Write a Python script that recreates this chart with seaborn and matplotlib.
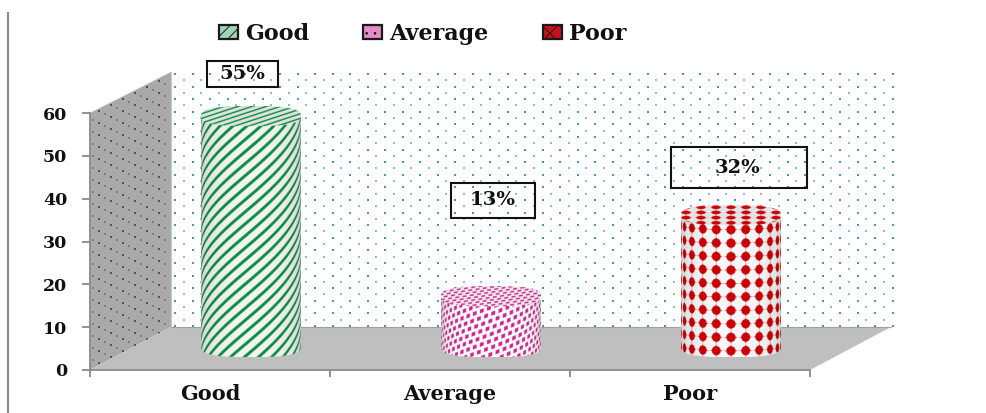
import numpy as np
import matplotlib
matplotlib.use("Agg")
import matplotlib.pyplot as plt
from matplotlib.patches import Polygon, Rectangle, Patch
import seaborn as sns

# Survey results
categories = ["Good", "Average", "Poor"]
values = [55, 13, 32]
y_ticks = [0, 10, 20, 30, 40, 50, 60]
bar_colors = ["#0e8c4a", "#d0258f", "#cc0008"]
legend_faces = ["#9fd4b6", "#e48cc6", "#c8101c"]
legend_hatches = ["///", "..", "xx"]
box_rects = [(207, 61, 71, 26), (451, 183, 84, 35), (671, 147, 136, 41)]
label_centres = [(242, 74), (493, 200), (738, 168)]

sns.set_style("white")
SERIF = ["DejaVu Serif"]
TEXT = "#111111"
W, H = 987, 413
fig = plt.figure(figsize=(W / 100, H / 100), dpi=100, facecolor="white")


def rect(left, top, right, bottom):
    return [left / W, 1 - bottom / H, (right - left) / W, (bottom - top) / H]


# Pixel-addressed layer holding the box walls, floor, frame rule and labels
canvas = fig.add_axes([0, 0, 1, 1], zorder=0)
canvas.set_xlim(0, W)
canvas.set_ylim(H, 0)
canvas.axis("off")

back = Polygon([(171, 72), (891, 72), (891, 327), (171, 327)], fc="white", ec="none")
side = Polygon([(90, 113), (171, 72), (171, 327), (90, 370)], fc="#a9a9a9", ec="none")
floor = Polygon([(90, 370), (810, 370), (891, 327), (171, 327)], fc="#bfbfbf", ec="none")
for wall in (back, side, floor):
    canvas.add_patch(wall)
canvas.plot([171, 171], [72, 327], color="#c8c8c8", lw=0.8)
canvas.plot([171, 891], [327, 327], color="#a0a0a0", lw=0.8)

# Dotted wall fills
rows = np.arange(74, 327, 6.3)
for k, ry in enumerate(rows):
    xs = np.arange(175 + (k % 2) * 8.75, 893, 17.5)
    strong = k % 2 == 0
    canvas.scatter(xs, np.full_like(xs, ry), s=3.0 if strong else 1.5,
                   marker="s", linewidths=0,
                   color="#4a9f84" if strong else "#93c2b3", zorder=1)
for k, base_y in enumerate(np.arange(110, 380, 6.0)):
    xs = np.arange(93 + (k % 2) * 6.0, 171, 12.0)
    ys = base_y - 0.506 * (xs - 90)
    dots = canvas.scatter(xs, ys, s=1.4 if k % 2 else 0.9, marker="s", linewidths=0,
                          color="#555555" if k % 2 else "#808080", zorder=1)
    dots.set_clip_path(side)

canvas.plot([8, 8], [12, 413], color="#8a8a8a", lw=1.5, solid_capstyle="butt")

# Value labels in outlined boxes
for (bx, by, bw, bh), (cx, cy), v in zip(box_rects, label_centres, values):
    canvas.add_patch(Rectangle((bx, by), bw, bh, fill=False, ec=TEXT, lw=1.5, zorder=3))
    canvas.text(cx, cy, f"{v}%", ha="center", va="center", family=SERIF,
                fontweight="bold", fontsize=14, color=TEXT, zorder=4)

# Legend
plt.rcParams["hatch.linewidth"] = 0.7
handles = [Patch(facecolor=f, edgecolor="#1a1a1a", hatch=h, lw=1.6, label=c)
           for f, h, c in zip(legend_faces, legend_hatches, categories)]
canvas.legend(handles=handles, loc="upper left", bbox_to_anchor=(219 / W, 1 - 23 / H),
              bbox_transform=fig.transFigure, ncol=3, frameon=False, borderpad=0,
              borderaxespad=0, handlelength=0.86, handleheight=0.58, handletextpad=0.3,
              columnspacing=2.45, labelcolor=TEXT,
              prop={"family": SERIF, "weight": "bold", "size": 16})

# Front-plane value axis
ax = fig.add_axes(rect(90, 113, 810, 370), zorder=1)
ax.patch.set_alpha(0)
ax.set_xlim(-0.5, 2.5)
ax.set_ylim(0, 60)
for s in ("top", "right"):
    ax.spines[s].set_visible(False)
for s in ("left", "bottom"):
    ax.spines[s].set_color("#8a8a8a")
    ax.spines[s].set_linewidth(1.3)
ax.set_yticks(y_ticks)
ax.set_xticks(range(len(categories)), categories)
ax.set_xticks([-0.5, 0.5, 1.5, 2.5], minor=True)
ax.tick_params(axis="y", length=5.8, width=1.3, color="#8a8a8a", pad=10.5,
               left=True, labelsize=12.5, labelcolor=TEXT)
ax.tick_params(axis="x", which="major", length=0, pad=10, labelsize=15, labelcolor=TEXT)
ax.tick_params(axis="x", which="minor", length=5, width=1.3, color="#8a8a8a", bottom=True)
for lab in ax.get_xticklabels() + ax.get_yticklabels():
    lab.set_family(SERIF)
    lab.set_fontweight("bold")

# Mid-depth plane that carries the cylinders
PX_PER_UNIT = 257 / 60
DEPTH_X, DEPTH_Y = 41, 17.4
FLOOR_VALUE = 1.3
bar_ax = fig.add_axes(rect(90 + DEPTH_X, 113 - DEPTH_Y, 810 + DEPTH_X, 370 - DEPTH_Y - FLOOR_VALUE * PX_PER_UNIT),
                      zorder=2)
bar_ax.patch.set_alpha(0)
sns.barplot(x=categories, y=values, hue=categories, palette=bar_colors, width=100 / 240,
            legend=False, saturation=1, ax=bar_ax)


def ink_good(s, v):
    phase = (v + 0.85 * s) / 12.0
    return np.clip((np.cos(2 * np.pi * phase) - 0.35) * 3.0, 0, 1)


def ink_average(s, v):
    # Sheared lattice of small squares
    sv = v + 0.38 * s
    row = np.floor(sv / 6.6)
    du = np.mod(s + row * 2.9, 7.2) - 3.6
    dv = np.mod(sv, 6.6) - 3.3
    return np.clip((2.2 - np.maximum(np.abs(du), np.abs(dv))) * 1.8, 0, 1)


def ink_poor(s, v):
    du = np.mod(s + 7.5, 15.0) - 7.5
    dv = np.mod(v, 13.4) - 6.7
    disc = 4.9 - np.hypot(du, dv)
    star = 3.1 - (np.sqrt(np.abs(du)) + np.sqrt(np.abs(dv)))
    return np.clip(np.maximum(disc, star) * 1.8, 0, 1)


inks = [ink_good, ink_average, ink_poor]
grounds = ["#f4f7ef", "#ffffff", "#f8f8f8"]
SS = 3
RIM = 10.0
SHOULDER = 2.8
FLATTEN = 0.45
for patch, ink, colour, ground in zip(bar_ax.patches, inks, bar_colors, grounds):
    x0, w, v_top = patch.get_x(), patch.get_width(), patch.get_height()
    rim_units = RIM / PX_PER_UNIT
    y_low, y_high = FLOOR_VALUE - rim_units, v_top + rim_units
    height_px = (y_high - y_low) * PX_PER_UNIT
    nrow, ncol = int(height_px * SS), int(w * 240 * SS)
    px, py = np.meshgrid((np.arange(ncol) + 0.5) / SS, (np.arange(nrow) + 0.5) / SS)
    half = w * 120
    xn = np.clip((px - half) / half, -1, 1)
    curve = RIM * np.sqrt(1 - xn ** 2)
    rounded = RIM * (1 - np.abs(xn) ** SHOULDER) ** (1 / SHOULDER)
    y_cap, y_base = RIM, height_px - RIM

    on_top = np.abs(py - y_cap) <= rounded
    on_side = (py > y_cap + rounded) & (py <= y_base + rounded)

    s = half * np.arcsin(xn)
    amount = ink(s, py - FLATTEN * curve)
    light = 0.72 + 0.28 * np.sqrt(np.sqrt(1 - xn ** 2))
    top_amount = ink(px - half, (py - y_cap) * 2.6)

    ink_rgb = np.array(matplotlib.colors.to_rgb(colour))
    ground_rgb = np.array(matplotlib.colors.to_rgb(ground))
    img = np.ones((nrow, ncol, 4))
    side_rgb = (ground_rgb[None, None] * (1 - amount[..., None]) + ink_rgb[None, None] * amount[..., None])
    side_rgb = side_rgb * light[..., None]
    top_rgb = ground_rgb[None, None] * (1 - top_amount[..., None]) * 0.92 + ink_rgb[None, None] * top_amount[..., None]
    img[..., :3] = np.where(on_top[..., None], top_rgb, side_rgb)
    img[..., 3] = (on_top | on_side).astype(float)
    patch.set_alpha(0)
    bar_ax.imshow(img, extent=(x0, x0 + w, y_low, y_high), aspect="auto",
                  interpolation="antialiased", clip_on=False, zorder=3)

bar_ax.set_xlim(-0.5, 2.5)
bar_ax.set_ylim(FLOOR_VALUE, 60)
bar_ax.axis("off")

fig.savefig("out.png", dpi=100, facecolor="white")
